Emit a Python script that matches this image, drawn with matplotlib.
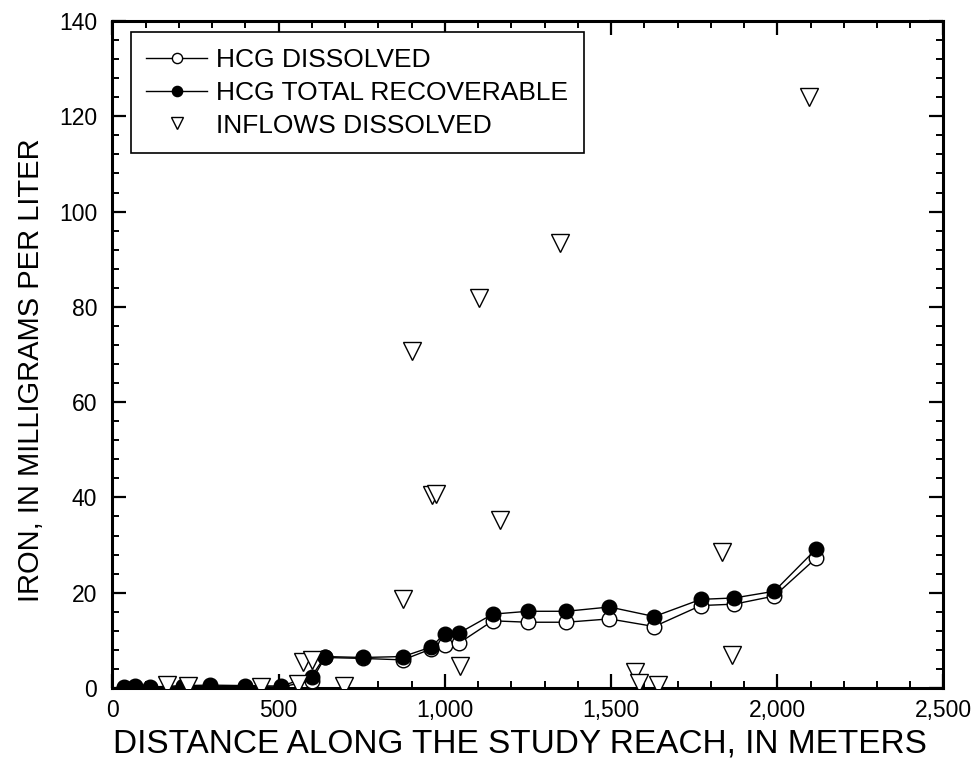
import matplotlib
matplotlib.use("Agg")
import matplotlib.pyplot as plt
from matplotlib.ticker import MultipleLocator, FuncFormatter

plt.rcParams['font.family'] = ['Liberation Sans', 'DejaVu Sans']

hcg_x = [34, 68, 113, 212, 293, 398, 506, 599, 639, 754, 874, 959, 999, 1042,
         1144, 1250, 1365, 1495, 1630, 1770, 1871, 1991, 2116]
hcg_total = [0.3, 0.4, 0.2, 0.5, 0.6, 0.5, 0.4, 2.4, 6.6, 6.4, 6.6, 8.6, 11.4, 11.5,
             15.5, 16.1, 16.1, 17.0, 15.0, 18.6, 18.9, 20.3, 29.1]
hcg_diss = [0.1, 0.2, 0.1, 0.3, 0.3, 0.3, 0.2, 1.5, 6.4, 6.2, 5.9, 8.2, 9.0, 9.4,
            14.1, 13.8, 13.8, 14.5, 12.9, 17.3, 17.6, 19.3, 27.2]

inflow_x = [163, 228, 448, 558, 573, 599, 696, 874, 902, 962, 973, 1044, 1102,
            1166, 1345, 1573, 1585, 1640, 1834, 1864, 2096]
inflow_y = [0.6, 0.4, 0.3, 0.8, 5.5, 5.9, 0.5, 18.6, 70.8, 40.6, 40.8, 4.6, 81.8,
            35.3, 93.3, 3.4, 1.0, 0.6, 28.6, 7.0, 124.1]

fig = plt.figure(figsize=(9.79, 7.81), dpi=100)
ax = fig.add_axes([0.1149, 0.1191, 0.8488, 0.854])

ax.plot(hcg_x, hcg_diss, color='black', lw=1.0, marker='o', ms=10.5,
        mfc='white', mec='black', mew=1.0, label='HCG DISSOLVED', zorder=3)
ax.plot(hcg_x, hcg_total, color='black', lw=1.0, marker='o', ms=10.5,
        mfc='black', mec='black', mew=1.0, label='HCG TOTAL RECOVERABLE', zorder=4)
ax.plot(inflow_x, inflow_y, linestyle='none', marker='v', ms=12.5,
        mfc='white', mec='black', mew=1.0, label='INFLOWS DISSOLVED', zorder=5)

ax.set_xlim(0, 2500)
ax.set_ylim(0, 140)
ax.xaxis.set_major_locator(MultipleLocator(500))
ax.xaxis.set_minor_locator(MultipleLocator(100))
ax.yaxis.set_major_locator(MultipleLocator(20))
ax.yaxis.set_minor_locator(MultipleLocator(4))
ax.xaxis.set_major_formatter(FuncFormatter(lambda v, p: f"{int(v):,}"))

ax.tick_params(which='both', direction='in', top=True, right=True,
               labelsize=16.5)
ax.tick_params(axis='x', which='major', pad=8)
ax.tick_params(axis='y', which='major', pad=11)
ax.tick_params(which='major', length=10, width=1.6)
ax.tick_params(which='minor', length=5, width=1.4)
for s in ax.spines.values():
    s.set_linewidth(2.2)

ax.set_xlabel('DISTANCE ALONG THE STUDY REACH, IN METERS', fontsize=24)
ax.set_ylabel('IRON, IN MILLIGRAMS PER LITER', fontsize=21)
ax.xaxis.set_label_coords(0.49, -0.06)
ax.yaxis.set_label_coords(-0.081, 0.477)

leg = ax.legend(loc='upper left', bbox_to_anchor=(0.0217, 0.983), fontsize=19,
                frameon=True, fancybox=False, edgecolor='black', framealpha=1,
                markerscale=0.7, handlelength=2.3, handletextpad=0.35,
                labelspacing=0.33, borderpad=0.6, borderaxespad=0)
leg.get_frame().set_linewidth(1.2)

fig.savefig('out.png', dpi=100)
